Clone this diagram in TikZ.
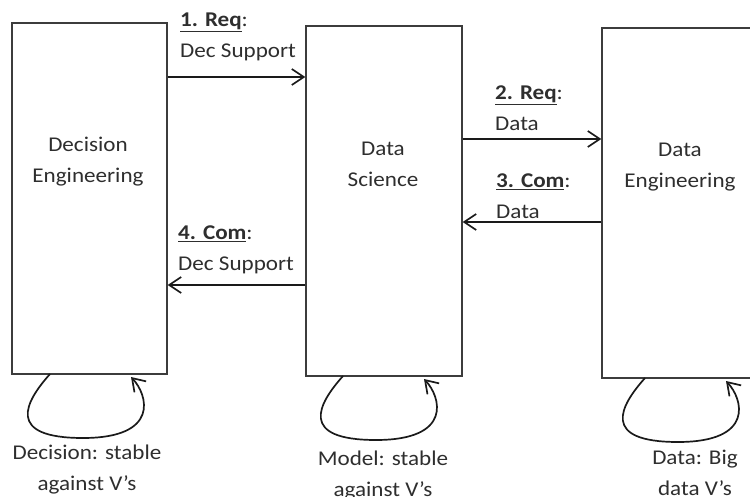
\documentclass[tikz,border=0pt]{standalone}
\usepackage{fontspec}
\setmainfont{Carlito}[FakeStretch=1.1]
\usetikzlibrary{arrows.meta}
\definecolor{txt}{HTML}{2E2E2E}
\definecolor{ln}{HTML}{1A1A1A}
\tikzset{
  box/.style={draw=ln!85, line width=1.3pt, inner sep=0pt},
  lbl/.style={text=txt, font=\fontsize{21}{31}\selectfont, inner sep=0pt},
  flow/.style={draw=ln, line width=1.7pt, -{Straight Barb[length=12pt,width=16pt,line width=1.7pt]}},
  selfloop/.style={draw=ln, line width=1.7pt, -{Straight Barb[length=12pt,width=16pt,line width=1.7pt]}},
}
\begin{document}
\begin{tikzpicture}[x=1pt,y=-1pt]
\useasboundingbox (0,0) rectangle (750,497);
\clip (0,0) rectangle (750,497);
% boxes
\node[box, minimum width=155pt, minimum height=351pt] (b1) at (89.5,198.5) {};
\node[box, minimum width=156pt, minimum height=350pt] (b2) at (384,201) {};
\node[box, minimum width=156pt, minimum height=350pt] (b3) at (680,203) {};
% box texts
\node[lbl, align=center] (t1) at (88,162) {Decision\\Engineering};
\node[lbl, align=center] (t2) at (383,164) {Data\\Science};
\node[lbl, align=center] (t3) at (680,167) {Data\\Engineering};
% flow arrows
\draw[flow] (b1.east |- 0,77) -- (b2.west |- 0,77);
\draw[flow] (b2.east |- 0,139) -- (b3.west |- 0,139);
\draw[flow] (b3.west |- 0,222) -- (b2.east |- 0,222);
\draw[flow] (b2.west |- 0,285) -- (b1.east |- 0,285);
% flow labels
\node[lbl, align=left, anchor=west] (l1) at (180,37) {\underline{\textbf{1. Req}}:\\Dec Support};
\node[lbl, align=left, anchor=west] (l2) at (495,108) {\underline{\textbf{2. Req}}:\\Data};
\node[lbl, align=left, anchor=west] (l3) at (496,196) {\underline{\textbf{3. Com}}:\\Data};
\node[lbl, align=left, anchor=west] (l4) at (178,250) {\underline{\textbf{4. Com}}:\\Dec Support};
% self loops
\foreach \dx/\dy/\b in {0/0/b1, 293/2/b2, 595/4/b3}{
  \begin{scope}[shift={(\dx,\dy)}]
    \draw[selfloop] (50,374) .. controls (25,402) and (5,438) .. (83,438)
      .. controls (160,438) and (148,395) .. (131,377);
  \end{scope}
}
% loop labels
\node[lbl, align=center] (d1) at (87,470) {Decision: stable\\against V’s};
\node[lbl, align=center] (d2) at (383,476) {Model: stable\\against V’s};
\node[lbl, align=center] (d3) at (695,473) {Data: Big\\data V’s};
\end{tikzpicture}
\end{document}
